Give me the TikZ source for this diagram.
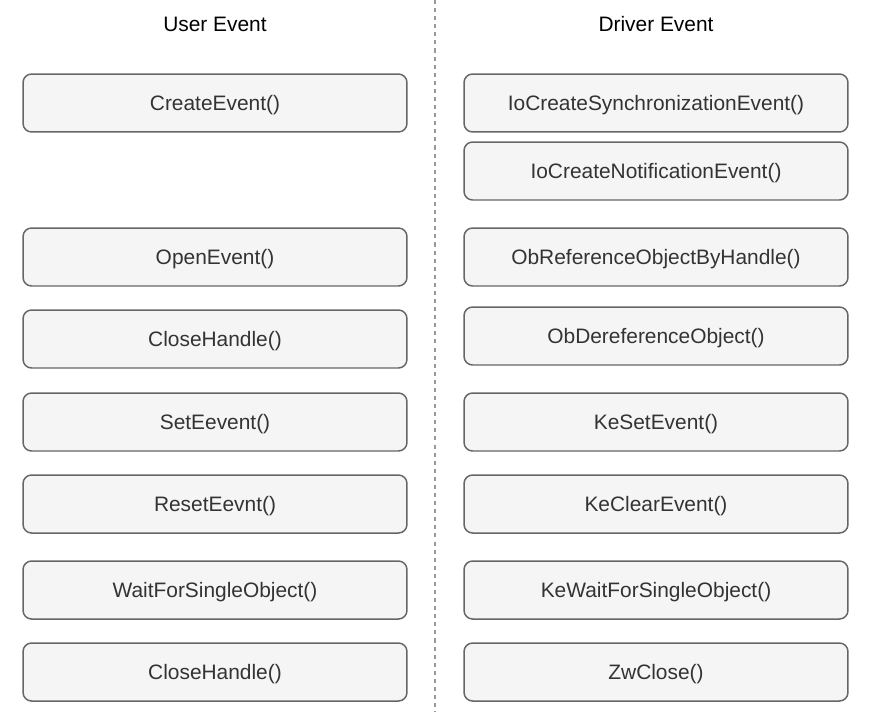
\documentclass[tikz,border=0pt]{standalone}
\usepackage{fontspec}
\setmainfont{Liberation Sans}
\definecolor{boxfill}{RGB}{245,245,245}
\definecolor{boxline}{RGB}{102,102,102}
\definecolor{ink}{RGB}{51,51,51}
\definecolor{rule}{RGB}{153,153,153}
\usetikzlibrary{positioning}

\begin{document}
\begin{tikzpicture}[x=0.02cm,y=-0.02cm,
    call/.style={draw=boxline,line width=0.85pt,fill=boxfill,rounded corners=0.17cm,
      minimum width=7.68cm,minimum height=1.16cm,inner sep=0pt,text height=11pt,text depth=2.5pt,
      text=ink,font=\fontsize{11.9}{14}\selectfont},
    head/.style={text=black,font=\fontsize{11.9}{14}\selectfont}]
        \useasboundingbox (0,0) rectangle (874,723);
        \draw[rule,line width=1.1pt,dash pattern=on 2.3pt off 2.3pt] (435,0) -- (435,712);
        \node[head] (user) at (215,24) {User Event};
        \node[head] (driver) at (656,24) {Driver Event};
        % user mode calls
        \node[call] (ucreate) at (215,103) {CreateEvent()};
        \node[call] (uopen) at (215,257) {OpenEvent()};
        \node[call] (uclose) at (215,339) {CloseHandle()};
        \node[call] (uset) at (215,422) {SetEevent()};
        \node[call] (ureset) at (215,504) {ResetEevnt()};
        \node[call] (uwait) at (215,590) {WaitForSingleObject()};
        \node[call] (uclosetwo) at (215,672) {CloseHandle()};
        % kernel mode calls
        \node[call] (dsync) at (656,103) {IoCreateSynchronizationEvent()};
        \node[call] (dnotify) at (656,171) {IoCreateNotificationEvent()};
        \node[call] (dref) at (656,257) {ObReferenceObjectByHandle()};
        \node[call] (dderef) at (656,336) {ObDereferenceObject()};
        \node[call] (dset) at (656,422) {KeSetEvent()};
        \node[call] (dclear) at (656,504) {KeClearEvent()};
        \node[call] (dwait) at (656,590) {KeWaitForSingleObject()};
        \node[call] (dclose) at (656,672) {ZwClose()};
      \end{tikzpicture}
\end{document}
